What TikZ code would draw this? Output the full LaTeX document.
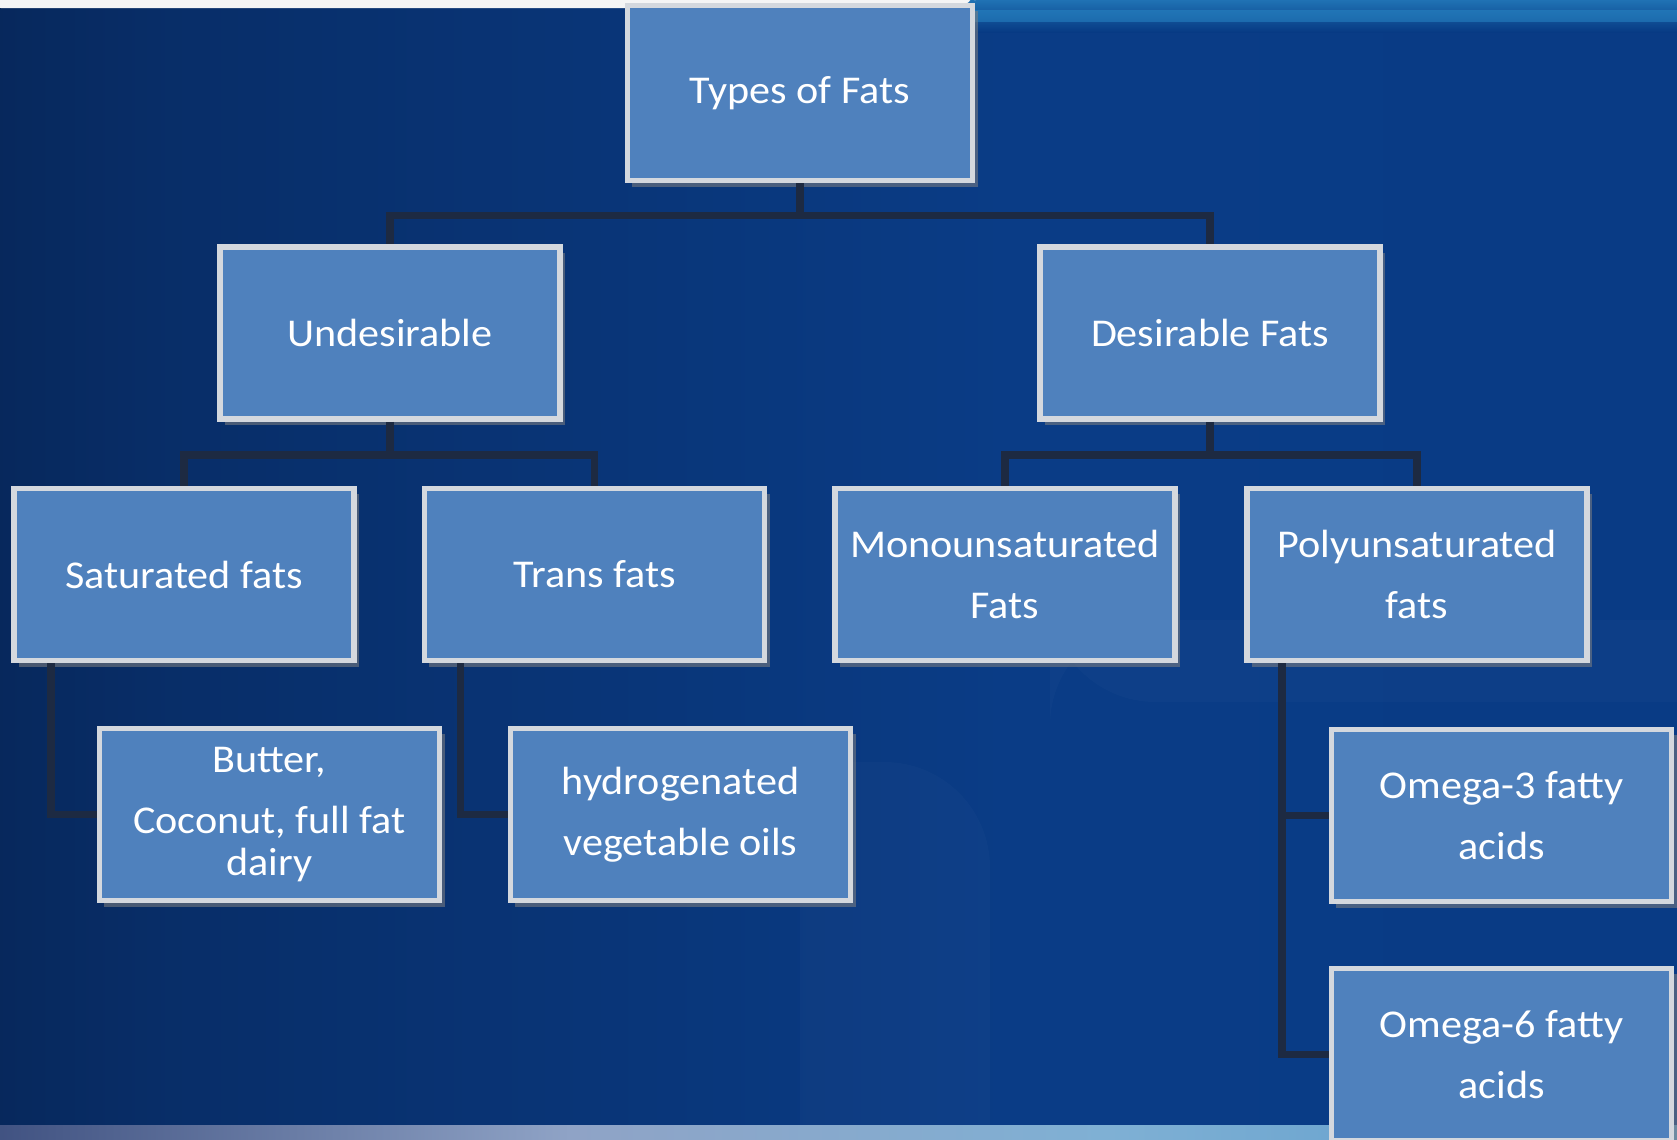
\documentclass[tikz,border=0pt]{standalone}
\usepackage{fontspec}
\setmainfont{Carlito}[FakeStretch=1.07]
\usetikzlibrary{shadows}

\definecolor{boxblue}{HTML}{4F81BD}
\definecolor{boxrim}{HTML}{D4D8DE}
\definecolor{linkcol}{HTML}{1D2A42}
\definecolor{bgdark}{HTML}{030C22}
\definecolor{bgmid}{HTML}{0A3C86}
\definecolor{bgright}{HTML}{073A84}
\definecolor{streak}{HTML}{2A8AC8}
\definecolor{footA}{HTML}{0B1438}
\definecolor{footB}{HTML}{2A3B6E}
\definecolor{footC}{HTML}{8FA3C6}
\definecolor{footD}{HTML}{7FB0D4}
\definecolor{footE}{HTML}{1E78BE}

\pgfdeclarehorizontalshading{slidebg}{100bp}{color(0bp)=(bgdark); color(30bp)=(bgmid!70!bgdark); color(55bp)=(bgmid); color(100bp)=(bgright)}
\pgfdeclarehorizontalshading{footbg}{100bp}{color(0bp)=(footA); color(20bp)=(footB); color(42bp)=(footC); color(58bp)=(footD); color(100bp)=(footE)}

\tikzset{
  fatbox/.style={rectangle, fill=boxblue, draw=boxrim, line width=1.6pt,
    minimum width=3.4cm, minimum height=1.72cm, inner sep=0pt,
    align=center, text=white, font=\fontsize{11.2}{17.4}\selectfont,
    drop shadow={shadow xshift=0.5mm, shadow yshift=-0.6mm, opacity=0.55}},
  link/.style={draw=linkcol, line width=2.1pt},
}

\begin{document}
\begin{tikzpicture}[x=0.01cm,y=-0.01cm]
\useasboundingbox (0,0) rectangle (1677,1139);
% slide background
\shade[shading=slidebg] (0,0) rectangle (1677,1139);
\fill[white, opacity=0.02] (1700,620) -- (1090,620) [rounded corners=30] -- (1050,620) -- (1050,702) [sharp corners] -- (1700,702) -- cycle;
\fill[white, opacity=0.02] (800,1125) -- (800,762) [rounded corners=30] -- (990,762) [sharp corners] -- (990,1125) -- cycle;
\shade[top color=streak!70!bgright, bottom color=bgright] (950,0) rectangle (1677,32);
\fill[streak, opacity=0.5] (950,10) rectangle (1677,22);
\fill[gray!8, rounded corners=6] (-20,-20) rectangle (975,8);
\shade[shading=footbg] (0,1125) rectangle (1677,1139);

% boxes
\node [fatbox, minimum width=3.45cm, minimum height=1.75cm] (root) at (800,93) {Types of Fats};
\node [fatbox] (U) at (390,333) {Undesirable};
\node [fatbox] (D) at (1210,333) {Desirable Fats};
\node [fatbox] (K1) at (184,574.5) {Saturated fats};
\node [fatbox] (K2) at (594.5,574.5) {Trans fats};
\node [fatbox] (K3) at (1005,574.5) {Monounsaturated\\Fats};
\node [fatbox] (K4) at (1417,574.5) {Polyunsaturated\\fats};
\node [fatbox] (E1) at (269.5,814.5) {Butter,\\Coconut, full fat\\[-5.3pt]dairy};
\node [fatbox] (E2) at (680.5,814.5) {hydrogenated\\vegetable oils};
\node [fatbox] (E3) at (1501.5,815.5) {Omega-3 fatty\\acids};
\node [fatbox] (E4) at (1501.5,1054.5) {Omega-6 fatty\\acids};

% links
\draw [link] (root.south) -- ++(0,32) -| (U.north);
\draw [link] (root.south) ++(0,32) -| (D.north);
\draw [link] (U.south) -- ++(0,33) -| (K1.north);
\draw [link] (U.south) ++(0,33) -| (K2.north);
\draw [link] (D.south) -- ++(0,33) -| (K3.north);
\draw [link] (D.south) ++(0,33) -| (K4.north);
\draw [link] (K1.south west) ++(40,0) |- (E1.west);
\draw [link] (K2.south west) ++(39,0) |- (E2.west);
\draw [link] (K4.south west) ++(38,0) |- (E3.west);
\draw [link] (K4.south west) ++(38,0) |- (E4.west);
\end{tikzpicture}
\end{document}
